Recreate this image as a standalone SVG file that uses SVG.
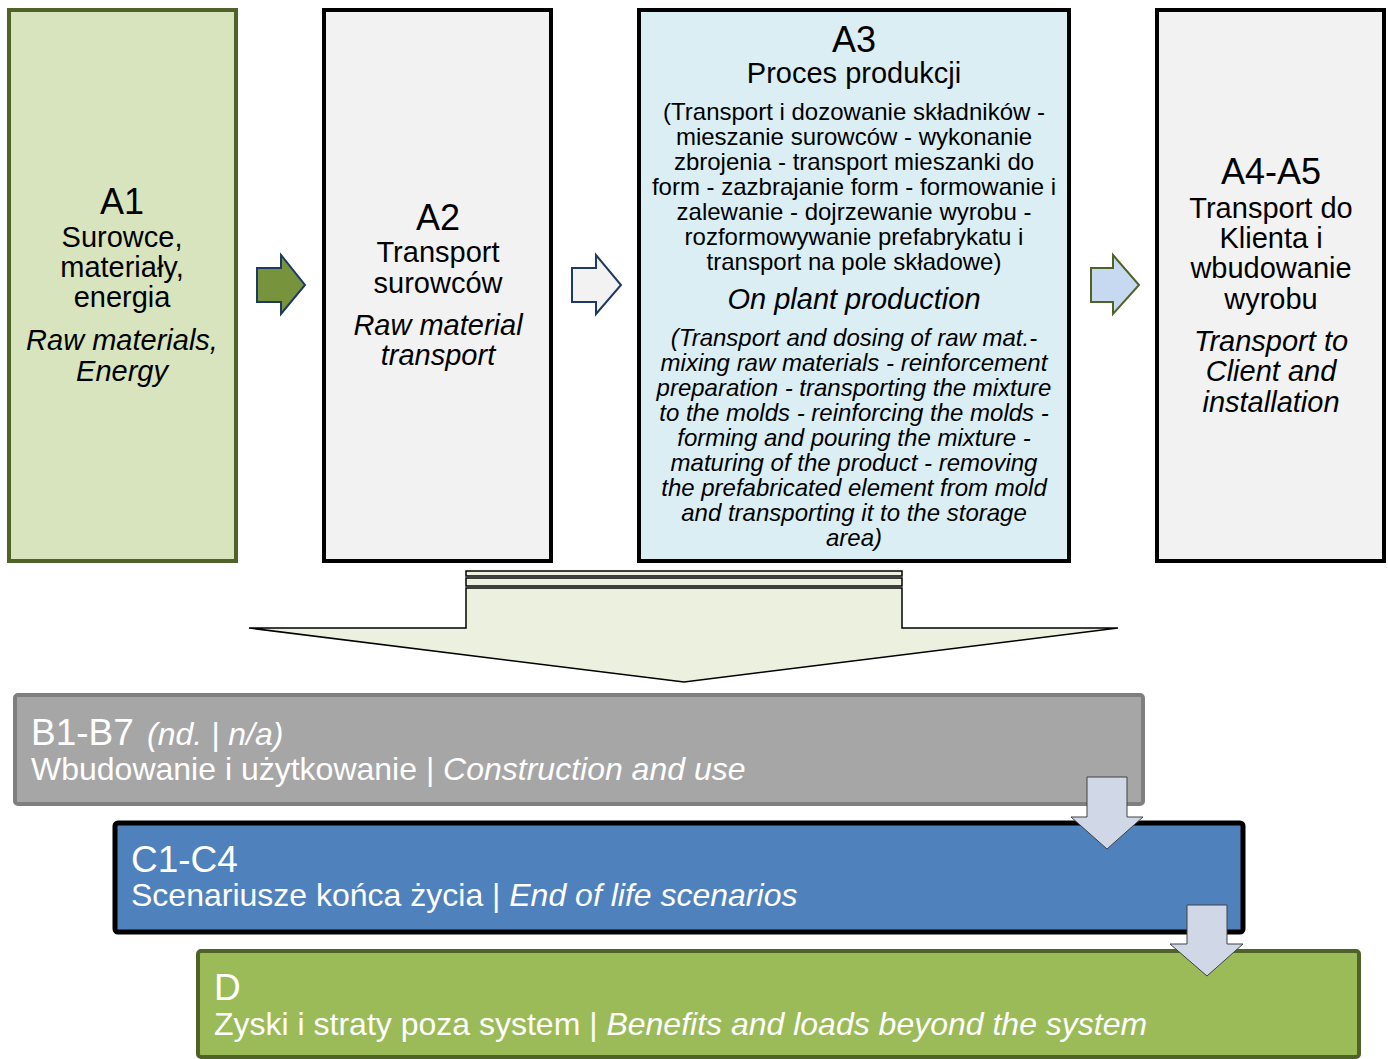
<svg xmlns="http://www.w3.org/2000/svg" width="1388" height="1059" viewBox="0 0 1388 1059">
<style>
text{font-family:"Liberation Sans",Arial,sans-serif;text-anchor:middle;fill:#000}
.h{font-size:36px}
.b{font-size:29px}
.s{font-size:24px}
.i{font-style:italic}
.w{fill:#fff;text-anchor:start}
.box{stroke-width:4}
.ra{stroke-width:2;stroke-linejoin:miter}
.da{fill:#d0d8e8;stroke:#404040;stroke-width:1}
</style>
<rect width="1388" height="1059" fill="#fff"/>
<g id="A1">
<rect class="box" x="9" y="10" width="227" height="551" fill="#d7e4bd" stroke="#4f6228"/>
<text class="h" x="122" y="214">A1</text>
<text class="b" x="122" y="247">Surowce,</text>
<text class="b" x="122" y="277">materiały,</text>
<text class="b" x="122" y="307">energia</text>
<text class="b i" x="122" y="350">Raw materials,</text>
<text class="b i" x="122" y="381">Energy</text>
</g>
<g id="A2">
<rect class="box" x="324" y="10" width="227" height="551" fill="#f2f2f2" stroke="#000"/>
<text class="h" x="438" y="230">A2</text>
<text class="b" x="438" y="262">Transport</text>
<text class="b" x="438" y="293">surowców</text>
<text class="b i" x="438" y="335">Raw material</text>
<text class="b i" x="438" y="365">transport</text>
</g>
<g id="A3">
<rect class="box" x="639" y="10" width="430" height="551" fill="#dbeef4" stroke="#000"/>
<text class="h" x="854" y="52">A3</text>
<text class="b" x="854" y="83">Proces produkcji</text>
<text class="s" x="854" y="120">(Transport i dozowanie składników -</text>
<text class="s" x="854" y="145">mieszanie surowców - wykonanie</text>
<text class="s" x="854" y="170">zbrojenia - transport mieszanki do</text>
<text class="s" x="854" y="195">form - zazbrajanie form - formowanie i</text>
<text class="s" x="854" y="220">zalewanie - dojrzewanie wyrobu -</text>
<text class="s" x="854" y="245">rozformowywanie prefabrykatu i</text>
<text class="s" x="854" y="270">transport na pole składowe)</text>
<text class="b i" x="854" y="309">On plant production</text>
<text class="s i" x="854" y="346">(Transport and dosing of raw mat.-</text>
<text class="s i" x="854" y="371">mixing raw materials - reinforcement</text>
<text class="s i" x="854" y="396">preparation - transporting the mixture</text>
<text class="s i" x="854" y="421">to the molds - reinforcing the molds -</text>
<text class="s i" x="854" y="446">forming and pouring the mixture -</text>
<text class="s i" x="854" y="471">maturing of the product - removing</text>
<text class="s i" x="854" y="496">the prefabricated element from mold</text>
<text class="s i" x="854" y="521">and transporting it to the storage</text>
<text class="s i" x="854" y="546">area)</text>
</g>
<g id="A4-A5">
<rect class="box" x="1157" y="10" width="227" height="551" fill="#f2f2f2" stroke="#000"/>
<text class="h" x="1271" y="184">A4-A5</text>
<text class="b" x="1271" y="218">Transport do</text>
<text class="b" x="1271" y="248">Klienta i</text>
<text class="b" x="1271" y="278">wbudowanie</text>
<text class="b" x="1271" y="309">wyrobu</text>
<text class="b i" x="1271" y="351">Transport to</text>
<text class="b i" x="1271" y="381">Client and</text>
<text class="b i" x="1271" y="412">installation</text>
</g>
<g id="B1-B7">
<rect class="box" x="15" y="695" width="1128" height="109" rx="3" fill="#a6a6a6" stroke="#7f7f7f"/>
<text class="w" font-size="37" x="31" y="745">B1-B7</text>
<text class="w i" font-size="32" x="147" y="745">(nd. | n/a)</text>
<text class="w" font-size="32" x="31" y="780">Wbudowanie i użytkowanie | <tspan class="i">Construction and use</tspan></text>
</g>
<g id="C1-C4">
<rect x="115" y="823" width="1128" height="109" rx="3" fill="#4f81bd" stroke="#000" stroke-width="5"/>
<text class="w" font-size="37" x="131" y="872">C1-C4</text>
<text class="w" font-size="32" x="131" y="906">Scenariusze końca życia | <tspan class="i">End of life scenarios</tspan></text>
</g>
<g id="D">
<rect class="box" x="198" y="951" width="1161" height="106" rx="3" fill="#9bbb59" stroke="#4f6228"/>
<text class="w" font-size="37" x="214" y="1000">D</text>
<text class="w" font-size="32" x="214" y="1035">Zyski i straty poza system | <tspan class="i">Benefits and loads beyond the system</tspan></text>
</g>
<g id="connectors">
<polygon class="ra" points="257,268 281,268 281,255 305,285 281,314 281,302 257,302" fill="#77933c" stroke="#1f3864"/>
<polygon class="ra" points="572,268 596,268 596,255 621,285 596,314 596,302 572,302" fill="#f2f2f2" stroke="#1f3864"/>
<polygon class="ra" points="1091,268 1113,268 1113,255 1139,285 1113,314 1113,302 1091,302" fill="#c6d9f1" stroke="#4f6228"/>
<g fill="#ebf1de" stroke="#000" stroke-width="1.5">
<rect x="466" y="571" width="436" height="5"/>
<rect x="466" y="578" width="436" height="8"/>
<polygon points="466,588 902,588 902,628 1118,628 684,682 249,628 466,628"/>
</g>
<polygon class="da" points="1087,777 1127,777 1127,817 1143,817 1107,849 1071,817 1087,817"/>
<polygon class="da" points="1187,905 1227,905 1227,944 1243,944 1207,976 1170,944 1187,944"/>
</g>
</svg>
